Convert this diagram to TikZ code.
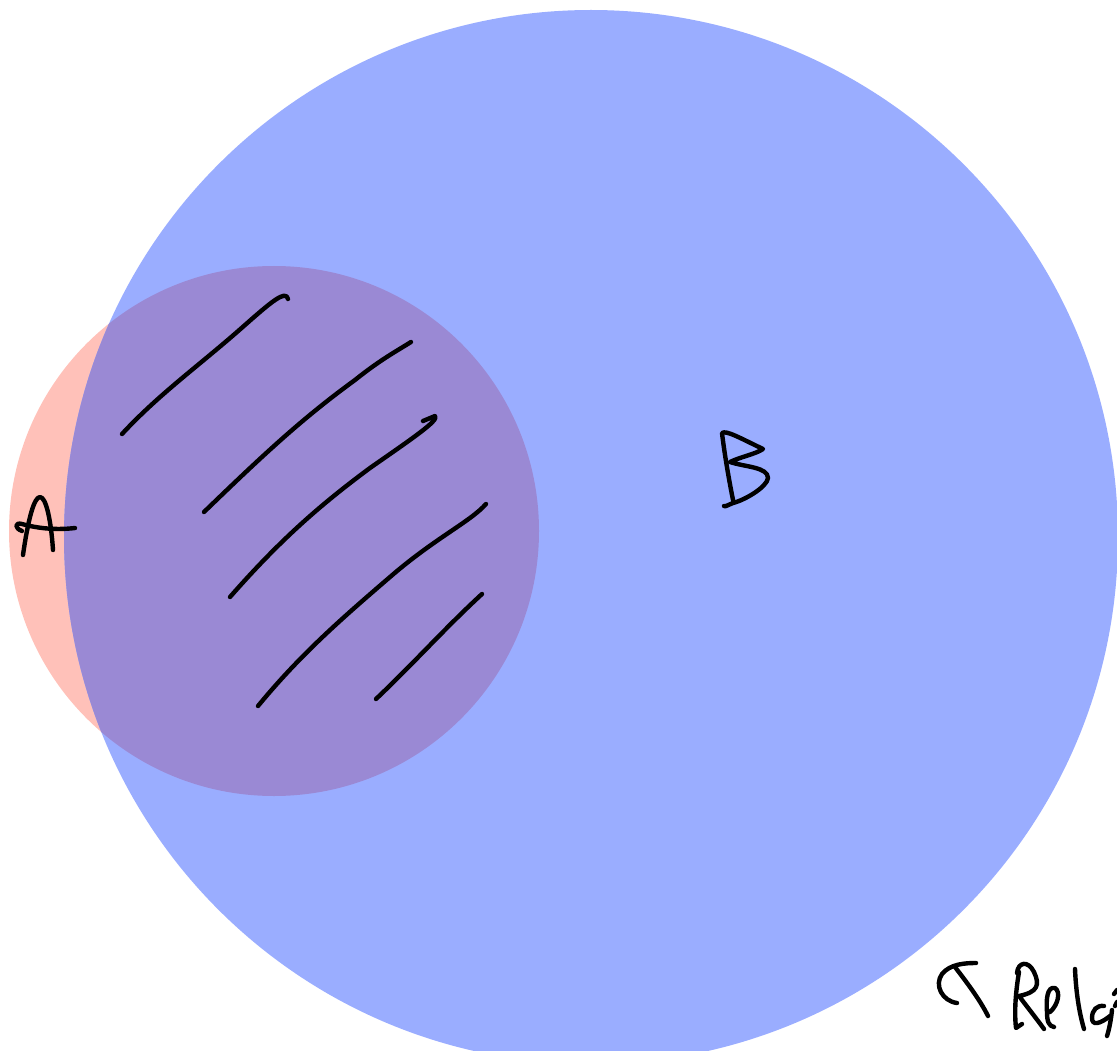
\documentclass[tikz,border=0pt]{standalone}
\usetikzlibrary{calc}
\definecolor{setA}{RGB}{255,193,185}
\definecolor{setB}{RGB}{154,173,255}
\definecolor{setAB}{RGB}{154,137,212}
\tikzset{
  ink/.style={draw=black, line width=4.4pt, line cap=round, line join=round},
}
\begin{document}
\begin{tikzpicture}[x=1pt,y=-1pt]
\useasboundingbox (0,0) rectangle (1117,1051);
\clip (0,0) rectangle (1117,1051);
\coordinate (cA) at (274,531);
\coordinate (cB) at (591,537);
% set A
\fill[setA] (cA) circle[radius=265pt];
% set B
\fill[setB] (cB) circle[radius=527pt];
% overlap
\begin{scope}
  \clip (cA) circle[radius=265pt];
  \fill[setAB] (cB) circle[radius=527pt];
\end{scope}
% hatching
\draw[ink] (122,434) .. controls (160,393) and (200,365) .. (245,325) .. controls (270,303) and (286,289) .. (288,299);
\draw[ink] (204,512) .. controls (260,458) and (300,420) .. (355,380) .. controls (380,360) and (395,352) .. (411,342);
\draw[ink] (230,597) .. controls (280,540) and (320,505) .. (370,468) .. controls (410,440) and (440,420) .. (435,416) -- (423,421);
\draw[ink] (258,706) .. controls (300,655) and (340,620) .. (390,577) .. controls (435,538) and (470,522) .. (486,504);
\draw[ink] (376,699) .. controls (415,662) and (445,628) .. (482,594);
% letter A
\draw[ink] (23,555) .. controls (28,520) and (34,497) .. (40,497) .. controls (46,497) and (51,520) .. (53,550);
\draw[ink] (22,531) .. controls (14,528) and (15,522) .. (22,524) .. controls (40,529) and (58,530) .. (75,528);
% letter B
\draw[ink] (733,500) .. controls (728,475) and (724,450) .. (722,433) .. controls (726,430) and (740,438) .. (763,449) .. controls (756,454) and (740,457) .. (730,462) .. controls (745,467) and (768,467) .. (768,478) .. controls (767,487) and (745,500) .. (733,503) .. controls (728,505) and (725,507) .. (724,506);
% annotation at bottom right
\draw[ink] (957,1003) .. controls (942,1001) and (934,985) .. (942,974) .. controls (950,964) and (965,963) .. (976,963);
\draw[ink] (955,967) .. controls (968,984) and (980,1000) .. (988,1016);
\draw[ink] (1019,972) .. controls (1016,990) and (1014,1010) .. (1016,1028) -- (1022,1024);
\draw[ink] (1017,973) .. controls (1018,962) and (1028,960) .. (1034,972) .. controls (1040,985) and (1038,992) .. (1019,996) .. controls (1028,1008) and (1036,1018) .. (1044,1029);
\draw[ink] (1050,1012) .. controls (1058,1005) and (1061,992) .. (1055,988) .. controls (1047,986) and (1046,1000) .. (1047,1012) .. controls (1047,1022) and (1049,1026) .. (1054,1027);
\draw[ink] (1075,969) .. controls (1076,992) and (1079,1012) .. (1084,1029);
\draw[ink] (1104,1006) .. controls (1097,1005) and (1092,1010) .. (1092,1018) .. controls (1092,1026) and (1100,1024) .. (1110,1016);
\draw[ink] (1112,1010) .. controls (1111,1020) and (1109,1030) .. (1107,1036);
\draw[ink] (1117,990) -- (1114,994);
\draw[ink] (1117,1002) -- (1115,1006);
\end{tikzpicture}
\end{document}
